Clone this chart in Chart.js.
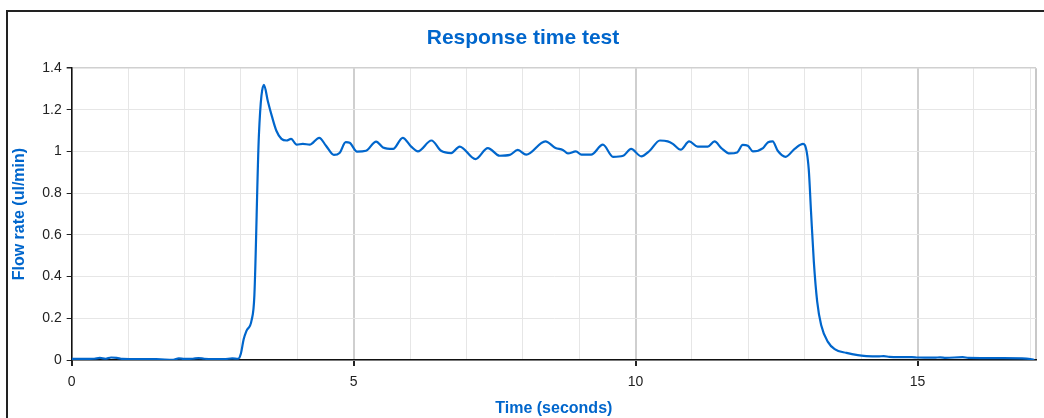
<!DOCTYPE html>
<html>
<head>
<meta charset="utf-8">
<script src="https://cdn.jsdelivr.net/npm/chart.js@4.4.1/dist/chart.umd.min.js"></script>
<style>
    html, body { margin: 0; padding: 0; background: #fff; overflow: hidden; }
    #frame { position: absolute; left: 6px; top: 10px; width: 1200px; height: 600px; border-left: 2px solid #222; border-top: 2px solid #222; }
    #wrap { position: absolute; left: 0; top: 0; width: 1044px; height: 418px; }
</style>
</head>
<body>
<div id="frame"></div>
<div id="wrap"><canvas id="myChart"></canvas></div>
<script>
// time (s) and flow rate (ul/min)
const times = [0.0, 0.2, 0.4, 0.5, 0.6, 0.7, 0.8, 0.9, 1.2, 1.5, 1.8, 1.9, 2.0, 2.15, 2.25, 2.35, 2.5, 2.7, 2.85, 2.95,
    3.0, 3.05, 3.1, 3.19, 3.24, 3.32, 3.41, 3.48, 3.55, 3.63, 3.72, 3.81, 3.89, 3.99, 4.10, 4.22, 4.39, 4.51, 4.65, 4.75,
    4.86, 4.93, 5.06, 5.22, 5.40, 5.52, 5.70, 5.87, 6.02, 6.14, 6.38, 6.55, 6.73, 6.88, 7.16, 7.38, 7.59, 7.77, 7.91, 8.06,
    8.40, 8.58, 8.71, 8.80, 8.94, 9.04, 9.21, 9.42, 9.60, 9.78, 9.92, 10.10, 10.25, 10.43, 10.57, 10.66, 10.80, 10.95, 11.10, 11.28,
    11.40, 11.52, 11.67, 11.80, 11.90, 11.99, 12.08, 12.26, 12.35, 12.43, 12.52, 12.66, 12.82, 12.97, 13.0, 13.07, 13.11, 13.16, 13.22, 13.29,
    13.41, 13.53, 13.74, 13.94, 14.09, 14.3, 14.4, 14.5, 14.68, 14.9, 15.0, 15.3, 15.4, 15.5, 15.8, 15.9, 16.5, 16.93, 17.07];
const flow = [0.005, 0.005, 0.006, 0.01, 0.006, 0.012, 0.01, 0.005, 0.004, 0.004, 0.001, 0.008, 0.005, 0.006, 0.009, 0.006, 0.004, 0.004, 0.008, 0.006,
    0.03, 0.1, 0.14, 0.19, 0.31, 1.077, 1.32, 1.24, 1.17, 1.10, 1.061, 1.053, 1.061, 1.033, 1.037, 1.033, 1.066, 1.028, 0.984, 0.993,
    1.045, 1.042, 1.0, 1.004, 1.048, 1.02, 1.013, 1.066, 1.024, 1.001, 1.053, 1.004, 0.993, 1.024, 0.964, 1.017, 0.98, 0.984, 1.008, 0.985,
    1.049, 1.017, 1.008, 0.991, 1.001, 0.985, 0.985, 1.033, 0.975, 0.98, 1.013, 0.977, 1.004, 1.053, 1.049, 1.037, 1.009, 1.049, 1.024, 1.024,
    1.049, 1.017, 0.991, 0.996, 1.032, 1.028, 1.001, 1.017, 1.045, 1.049, 1.004, 0.975, 1.013, 1.037, 1.032, 0.916, 0.715, 0.473, 0.28, 0.168,
    0.087, 0.052, 0.034, 0.023, 0.019, 0.017, 0.019, 0.015, 0.014, 0.014, 0.012, 0.011, 0.013, 0.01, 0.014, 0.01, 0.009, 0.007, 0.0];

const xTicks = [0, 1, 2, 3, 4, 5, 6, 7, 8, 9, 10, 11, 12, 13, 14, 15, 16, 17];
const xLabels = [0, 5, 10, 15];
const yTicks = [0, 0.2, 0.4, 0.6, 0.8, 1, 1.2, 1.4];
const yLabels = ["0", "0.2", "0.4", "0.6", "0.8", "1", "1.2", "1.4"];
const xMax = 17.1;

const blue = "#0066cc";
const font = "'Liberation Sans', Arial, sans-serif";

const ctx = document.getElementById("myChart").getContext("2d");

const myChart = new Chart(ctx, {
    type: "line",
    data: {
        datasets: [
            {
                data: times.map((t, i) => ({ x: t, y: flow[i] })),
                borderColor: blue,
                borderWidth: 2.2,
                pointRadius: 0,
                cubicInterpolationMode: "monotone",
                fill: false,
            },
        ],
    },
    options: {
        responsive: true,
        maintainAspectRatio: false,
        animation: false,
        layout: {
            padding: { left: 10, right: 8, top: 16, bottom: 0 },
        },
        plugins: {
            legend: { display: false },
            tooltip: { enabled: false },
            title: {
                display: true,
                text: "Response time test",
                color: blue,
                font: { family: font, size: 21, weight: "bold" },
                padding: { top: 10, bottom: 17 },
            },
        },
        scales: {
            x: {
                type: "linear",
                min: 0,
                max: xMax,
                afterBuildTicks: (axis) => {
                    axis.ticks = xTicks.concat([xMax]).map((v) => ({ value: v }));
                },
                ticks: {
                    autoSkip: false,
                    maxRotation: 0,
                    color: "#222",
                    padding: 8,
                    font: { family: font, size: 14 },
                    callback: (v) => (xLabels.includes(v) ? String(v) : ""),
                },
                grid: {
                    color: (c) => {
                        const v = c.tick ? c.tick.value : null;
                        if (v === xMax) return "#c8c8c8";
                        return xLabels.includes(v) ? "#cfcfcf" : "#e6e6e6";
                    },
                    lineWidth: (c) => {
                        const v = c.tick ? c.tick.value : null;
                        return v === xMax || xLabels.includes(v) ? 2 : 1;
                    },
                    tickColor: (c) => (c.tick && xLabels.includes(c.tick.value) ? "#222" : "rgba(0,0,0,0)"),
                    tickLength: 6,
                },
                border: { color: "#111", width: 1.5 },
                title: {
                    display: true,
                    text: "Time (seconds)",
                    color: blue,
                    font: { family: font, size: 16, weight: "bold" },
                    padding: { top: 0, bottom: 0 },
                },
            },
            y: {
                min: 0,
                max: 1.4,
                afterBuildTicks: (axis) => {
                    axis.ticks = yTicks.map((v) => ({ value: v }));
                },
                ticks: {
                    color: "#222",
                    padding: 5,
                    font: { family: font, size: 14 },
                    callback: (v) => yLabels[yTicks.indexOf(v)],
                },
                grid: {
                    color: (c) => (c.tick && c.tick.value === 1.4 ? "#d0d0d0" : "#e6e6e6"),
                    lineWidth: (c) => (c.tick && c.tick.value === 1.4 ? 1.5 : 1),
                    tickColor: "#222",
                    tickLength: 5,
                },
                border: { color: "#111", width: 1.5 },
                title: {
                    display: true,
                    text: "Flow rate (ul/min)",
                    color: blue,
                    font: { family: font, size: 16, weight: "bold" },
                    padding: { top: 0, bottom: 8 },
                },
            },
        },
    },
});
</script>
</body>
</html>
